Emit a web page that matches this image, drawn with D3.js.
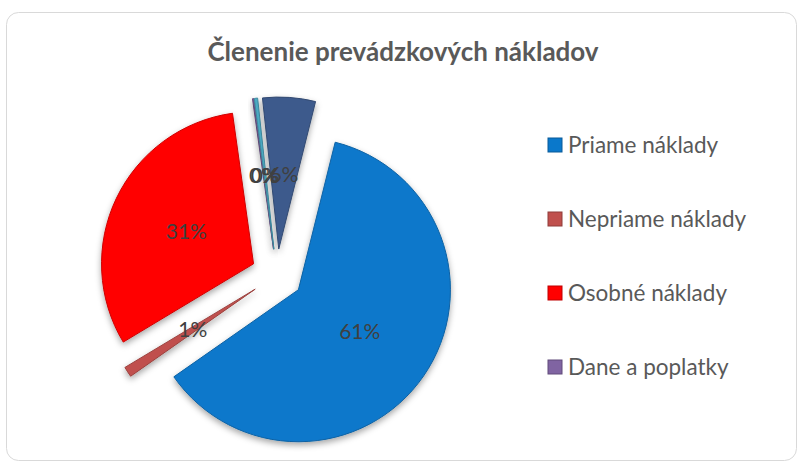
<!DOCTYPE html>
<html>
<head>
<meta charset="utf-8">
<script src="https://cdn.jsdelivr.net/npm/d3@7"></script>
<style>
  body { margin: 0; background: #fff; }
  svg { display: block; }
</style>
</head>
<body>
<div id="chart"></div>
<script>
// data
var categories = ["Priame náklady", "Nepriame náklady", "Osobné náklady", "Dane a poplatky", "Odpisy", "Ostatné náklady"];
var values = [61.4, 1.1, 31.4, 0.15, 0.35, 5.6];
var colors = ["#0a78cb", "#c0504d", "#ff0000", "#8064a2", "#4bacc6", "#3d5a8c"];
var legendCount = 4; // only 4 entries fit in the legend box

var W = 803, H = 462;
var cx = 277, cy = 275, R = 152, EXPLODE = 26;

var svg = d3.select("#chart").append("svg")
    .attr("width", W)
    .attr("height", H);

var defs = svg.append("defs");
var shadow = defs.append("filter").attr("id", "shadow")
    .attr("x", "-20%").attr("y", "-20%").attr("width", "140%").attr("height", "140%");
shadow.append("feDropShadow")
    .attr("dx", 0).attr("dy", 3).attr("stdDeviation", 3)
    .attr("flood-color", "#000").attr("flood-opacity", 0.35);

// frame
svg.append("rect")
    .attr("x", 6.5).attr("y", 12.5)
    .attr("width", 790).attr("height", 448)
    .attr("rx", 12).attr("ry", 12)
    .attr("fill", "#fff")
    .attr("stroke", "#d9d9d9");

svg.append("text")
    .attr("x", 403).attr("y", 61)
    .attr("text-anchor", "middle")
    .style("font-family", "Lato, 'Open Sans', sans-serif")
    .style("font-weight", "bold")
    .style("font-size", "26px")
    .attr("fill", "#595959")
    .text("Členenie prevádzkových nákladov");

var total = d3.sum(values);
var pie = d3.pie().sort(null)
    .startAngle(14 * Math.PI / 180)
    .endAngle((14 + 360) * Math.PI / 180);
var arcs = pie(values);

var arc = d3.arc().innerRadius(0).outerRadius(R);

function offset(d, dist) {
  var a = (d.startAngle + d.endAngle) / 2;
  return [Math.sin(a) * dist, -Math.cos(a) * dist];
}

var g = svg.append("g").attr("transform", "translate(" + cx + "," + cy + ")");

g.selectAll("path")
    .data(arcs)
    .enter()
    .append("path")
    .attr("d", arc)
    .attr("transform", function(d) {
      var o = offset(d, EXPLODE);
      return "translate(" + o[0] + "," + o[1] + ")";
    })
    .attr("fill", function(d, i) { return colors[i]; })
    .attr("stroke", function(d, i) { return d3.color(colors[i]).darker(0.6); })
    .attr("stroke-width", 1)
    .attr("filter", "url(#shadow)");

g.selectAll("text.lbl")
    .data(arcs)
    .enter()
    .append("text")
    .attr("class", "lbl")
    .attr("x", function(d) { return offset(d, EXPLODE + R * 0.49)[0]; })
    .attr("y", function(d) { return offset(d, EXPLODE + R * 0.49)[1]; })
    .attr("dy", "0.35em")
    .attr("text-anchor", "middle")
    .style("font-family", "Lato, 'Open Sans', sans-serif")
    .style("font-size", "21px")
    .attr("fill", "#404040")
    .text(function(d) { return Math.round(d.value / total * 100) + "%"; });

// legend
var legend = svg.append("g").attr("transform", "translate(548,0)");
var ly = d3.scalePoint()
    .domain(categories.slice(0, legendCount))
    .range([145, 367]);

var item = legend.selectAll("g")
    .data(categories.slice(0, legendCount))
    .enter()
    .append("g")
    .attr("transform", function(d) { return "translate(0," + ly(d) + ")"; });

item.append("rect")
    .attr("x", 0).attr("y", -7)
    .attr("width", 14).attr("height", 14)
    .attr("fill", function(d, i) { return colors[i]; })
    .attr("stroke", function(d, i) { return d3.color(colors[i]).darker(0.8); })
    .attr("stroke-width", 1);

item.append("text")
    .attr("x", 20).attr("y", 0)
    .attr("dy", "0.35em")
    .style("font-family", "Lato, 'Open Sans', sans-serif")
    .style("font-size", "22.5px")
    .attr("fill", "#595959")
    .text(function(d) { return d; });
</script>
</body>
</html>
